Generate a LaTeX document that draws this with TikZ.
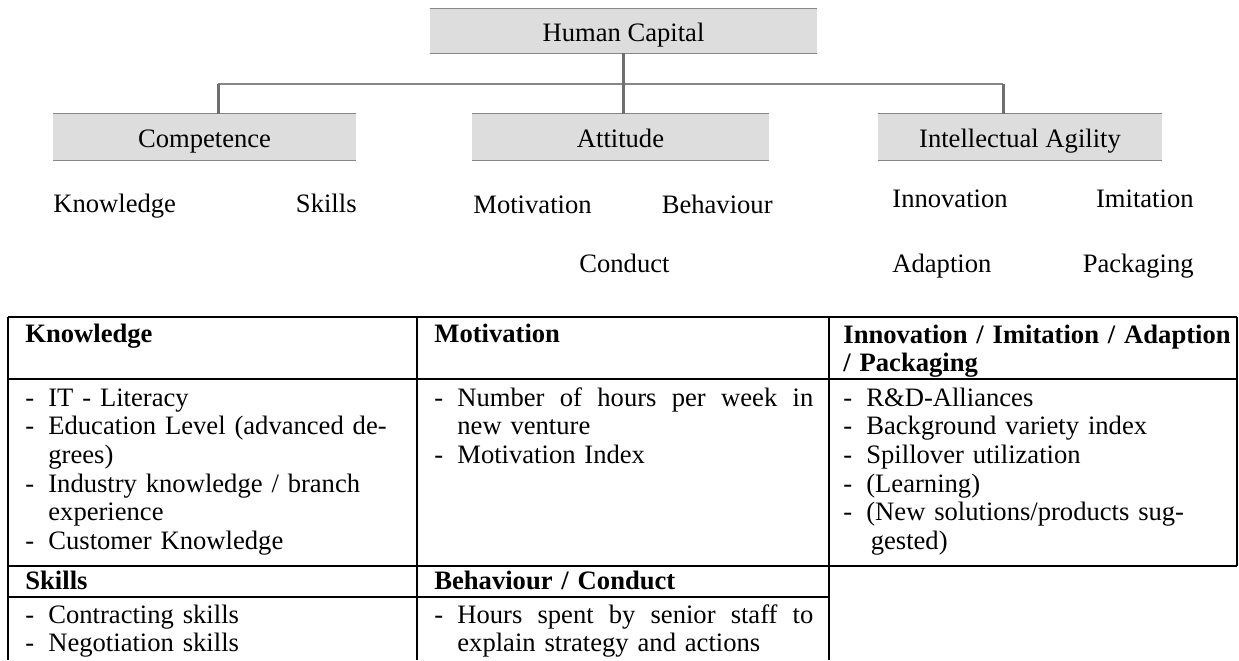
\documentclass[tikz,border=0pt]{standalone}
\usepackage{fontspec}
\setmainfont{Liberation Serif}
\usetikzlibrary{positioning}
\definecolor{boxgray}{RGB}{221,221,221}
\definecolor{edgegray}{RGB}{135,135,135}
\definecolor{stemgray}{RGB}{110,110,110}
\newcommand{\dashrow}[1]{\makebox[11.5pt][l]{-}#1}
\newcommand{\controw}[1]{\hspace*{11.5pt}#1}
\newcommand{\fullrow}[1]{\hbox to 178pt{\spaceskip=3.3pt plus 1fil #1}}

\begin{document}
\begin{tikzpicture}[x=0.5pt, y=-0.5pt,
    every node/.style={font=\fontsize{13.3}{14.35}\selectfont},
    capbox/.style={fill=boxgray, inner sep=0pt, minimum height=#1,
      text height=13pt, text depth=2.5pt},
    capbox/.default=22pt,
    sublabel/.style={inner sep=0pt},
    cell/.style={inner sep=0pt, text width=215pt, align=left, anchor=base west},
    stem/.style={line width=1.5pt, color=stemgray},
    bus/.style={line width=0.75pt, color=edgegray},
    edge/.style={line width=0.7pt, color=edgegray},
    grid/.style={line width=1pt, color=black}]
  \useasboundingbox (0,0) rectangle (1239,660);

  % hierarchy
  \node[capbox, minimum width=193.5pt] (hc) at (623.5,31) {Human Capital};
  \node[capbox=23pt, minimum width=151.5pt] (comp) at (204.5,137) {Competence};
  \node[capbox=23pt, minimum width=148.5pt] (att) at (620.5,137) {Attitude};
  \node[capbox=23pt, minimum width=142pt] (agil) at (1020,137) {Intellectual Agility};
  \foreach \n in {hc,comp,att,agil}
    \draw[edge] (\n.north west) -- (\n.north east) (\n.south west) -- (\n.south east);

  \coordinate (busL) at (218,84);
  \coordinate (busR) at (1003,84);
  \draw[bus] (busL) -- (busR);
  \draw[stem] (hc.south) -- (hc.south |- att.north);
  \draw[stem] (busL) -- (busL |- comp.north);
  \draw[stem] (busR) -- (busR |- agil.north);

  % sub labels
  \node[sublabel, anchor=base west] (know) at (53,212) {Knowledge};
  \node[sublabel, anchor=base east] (skill) at (357,212) {Skills};
  \node[sublabel, anchor=base west] (motiv) at (473,213) {Motivation};
  \node[sublabel, anchor=base east] (behav) at (773,213) {Behaviour};
  \node[sublabel, anchor=base west] (cond) at (579,272) {Conduct};
  \node[sublabel, anchor=base west] (innov) at (892,207) {Innovation};
  \node[sublabel, anchor=base east] (imit) at (1194,207) {Imitation};
  \node[sublabel, anchor=base west] (adapt) at (892,272) {Adaption};
  \node[sublabel, anchor=base east] (pack) at (1194,272) {Packaging};

  % table
  \draw[grid] (8,317) -- (1237,317) (8,379) -- (1237,379) (8,566) -- (1237,566)
    (8,597) -- (829,597);
  \draw[grid] (8,317) -- (8,660) (417,317) -- (417,660) (829,317) -- (829,660)
    (1237,317) -- (1237,566);

  \node[cell] (knowhead) at (25,342) {\textbf{Knowledge}};
  \node[cell] (motivhead) at (434,342) {\textbf{Motivation}};
  \node[cell] (innovhead) at (843,343)
    {\textbf{Innovation / Imitation / Adaption}\\\textbf{/ Packaging}};

  \node[cell] (knowlist) at (25,406) {\dashrow{IT - Literacy}\\
    \dashrow{Education Level (advanced de-}\\ \controw{grees)}\\
    \dashrow{Industry knowledge / branch}\\ \controw{experience}\\
    \dashrow{Customer Knowledge}};
  \node[cell] (motivlist) at (434,406)
    {\dashrow{\fullrow{Number of hours per week in}}\\
    \controw{new venture}\\ \dashrow{Motivation Index}};
  \node[cell] (innovlist) at (843,406) {\dashrow{R\&D-Alliances}\\
    \dashrow{Background variety index}\\ \dashrow{Spillover utilization}\\
    \dashrow{(Learning)}\\ \dashrow{(New solutions/products sug-}\\
    \controw{\,gested)}};

  \node[cell] (skillhead) at (25,589) {\textbf{Skills}};
  \node[cell] (behavhead) at (434,589) {\textbf{Behaviour / Conduct}};
  \node[cell] (skilllist) at (25,623) {\dashrow{Contracting skills}\\
    \dashrow{Negotiation skills}};
  \node[cell] (behavlist) at (434,623)
    {\dashrow{\fullrow{Hours spent by senior staff to}}\\
    \controw{explain strategy and actions}};
\end{tikzpicture}
\end{document}
